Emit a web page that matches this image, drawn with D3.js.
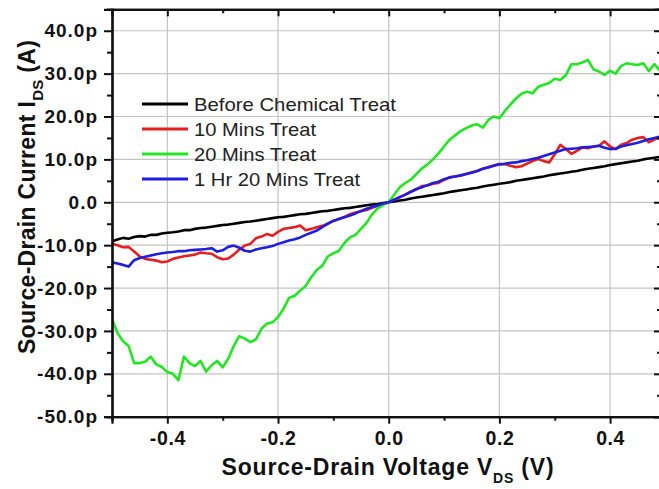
<!DOCTYPE html>
<html><head><meta charset="utf-8">
<script src="https://cdn.jsdelivr.net/npm/d3@7"></script>
<style>
html,body{margin:0;padding:0;background:#fff;}
svg{display:block;}
text{font-family:"Liberation Sans",Arial,Helvetica,sans-serif;}
</style></head>
<body><svg id="c" width="659" height="489"></svg>
<script>
const voltage = [-0.50,-0.49,-0.48,-0.47,-0.46,-0.45,-0.44,-0.43,-0.42,-0.41,-0.40,-0.39,-0.38,-0.37,-0.36,-0.35,-0.34,-0.33,-0.32,-0.31,-0.30,-0.29,-0.28,-0.27,-0.26,-0.25,-0.24,-0.23,-0.22,-0.21,-0.20,-0.19,-0.18,-0.17,-0.16,-0.15,-0.14,-0.13,-0.12,-0.11,-0.10,-0.09,-0.08,-0.07,-0.06,-0.05,-0.04,-0.03,-0.02,-0.01,0.00,0.01,0.02,0.03,0.04,0.05,0.06,0.07,0.08,0.09,0.10,0.11,0.12,0.13,0.14,0.15,0.16,0.17,0.18,0.19,0.20,0.21,0.22,0.23,0.24,0.25,0.26,0.27,0.28,0.29,0.30,0.31,0.32,0.33,0.34,0.35,0.36,0.37,0.38,0.39,0.40,0.41,0.42,0.43,0.44,0.45,0.46,0.47,0.48,0.49];
// currents in pA
const beforeTreat = [-9.1,-8.7,-8.3,-8.5,-8.1,-7.9,-8.0,-7.6,-7.6,-7.3,-7.1,-7.0,-6.8,-6.5,-6.5,-6.2,-6.0,-5.9,-5.7,-5.5,-5.3,-5.2,-5.0,-4.8,-4.6,-4.5,-4.3,-4.1,-3.9,-3.7,-3.5,-3.4,-3.2,-3.0,-2.8,-2.7,-2.5,-2.3,-2.1,-2.0,-1.8,-1.6,-1.4,-1.3,-1.1,-0.9,-0.7,-0.5,-0.4,-0.2,0.0,0.2,0.4,0.6,0.9,1.1,1.3,1.5,1.7,1.9,2.1,2.4,2.6,2.8,3.0,3.2,3.4,3.7,3.9,4.1,4.3,4.5,4.7,5.0,5.2,5.4,5.6,5.8,6.0,6.3,6.5,6.7,6.9,7.1,7.3,7.6,7.8,8.0,8.2,8.4,8.7,8.9,9.1,9.3,9.5,9.7,10.0,10.2,10.4,10.6];
const treat10 = [-9.7,-10.0,-10.5,-10.4,-11.5,-12.6,-13.2,-13.4,-13.6,-14.0,-13.8,-13.2,-12.9,-12.6,-12.4,-12.2,-11.7,-11.9,-12.0,-12.8,-13.3,-13.1,-12.2,-11.0,-10.1,-9.7,-8.4,-8.0,-7.4,-7.8,-6.9,-6.2,-6.0,-5.8,-5.4,-6.5,-6.2,-5.8,-5.5,-5.0,-4.4,-3.9,-3.4,-2.8,-2.4,-2.1,-1.8,-1.3,-0.8,-0.4,0.0,0.6,1.2,1.8,2.4,3.0,3.8,3.9,4.3,4.5,5.2,5.8,6.0,6.2,6.6,7.0,7.3,7.8,8.2,8.6,8.8,8.9,8.5,8.2,8.4,9.0,9.6,10.1,9.6,9.3,11.2,13.4,12.4,11.3,12.0,12.8,12.6,13.0,13.2,14.2,13.0,12.4,13.4,13.8,14.6,15.0,15.2,14.0,14.6,15.2];
const treat20 = [-27.2,-30.5,-32.4,-33.5,-37.5,-37.5,-37.2,-36.0,-37.8,-38.4,-39.6,-40.0,-41.5,-36.0,-37.5,-38.2,-37.0,-39.5,-38.0,-37.0,-38.5,-36.5,-33.5,-31.2,-31.8,-32.6,-32.0,-29.5,-28.3,-28.0,-26.8,-24.8,-22.3,-21.8,-20.6,-19.5,-17.5,-15.8,-14.8,-12.6,-11.9,-11.3,-9.5,-8.2,-7.6,-6.2,-4.8,-2.8,-1.4,-0.6,0.0,1.8,3.5,4.5,5.3,6.6,7.9,8.8,10.0,11.4,13.0,14.6,15.6,16.6,17.3,17.9,18.2,17.4,19.2,20.0,19.6,21.3,22.8,24.2,25.3,25.8,25.4,26.9,27.4,27.8,28.8,28.5,29.6,32.2,32.2,32.6,33.2,31.0,30.5,29.7,30.7,30.0,31.8,32.4,32.2,32.0,32.4,30.6,32.2,30.7];
const treat80 = [-14.0,-14.3,-14.6,-15.0,-13.5,-13.0,-12.7,-12.4,-12.1,-11.9,-11.7,-11.6,-11.4,-11.4,-11.2,-11.1,-11.0,-10.9,-10.7,-11.5,-11.2,-10.4,-10.1,-10.6,-11.3,-11.5,-11.0,-10.7,-10.5,-10.2,-9.7,-9.3,-8.9,-8.6,-8.2,-7.6,-7.1,-6.6,-5.8,-5.0,-4.3,-3.9,-3.5,-3.1,-2.6,-2.0,-1.5,-1.1,-0.7,-0.3,0.0,0.6,1.2,1.8,2.5,3.1,3.5,4.0,4.5,4.8,5.4,5.8,6.0,6.3,6.6,6.9,7.3,7.8,8.1,8.5,8.9,9.0,9.2,9.3,9.6,9.8,10.1,10.4,10.8,11.2,11.6,12.0,12.4,12.5,12.6,12.8,12.9,13.0,13.2,12.7,12.4,12.5,13.0,13.3,13.6,13.9,14.3,14.7,15.0,15.3];

const seriesNames = ["Before Chemical Treat","10 Mins Treat","20 Mins Treat","1 Hr 20 Mins Treat"];
const seriesValues = [beforeTreat, treat10, treat20, treat80];
const seriesColors = ["#000000","#e61e1e","#22e622","#1e1ee0"];

const xTicks = [-0.4,-0.2,0.0,0.2,0.4];
const xTickLabels = ["-0.4","-0.2","0.0","0.2","0.4"];
const xMinor = [-0.5,-0.3,-0.1,0.1,0.3];
const yTicks = [40,30,20,10,0,-10,-20,-30,-40,-50];
const yTickLabels = ["40.0p","30.0p","20.0p","10.0p","0.0","-10.0p","-20.0p","-30.0p","-40.0p","-50.0p"];
const yMinor = [45,35,25,15,5,-5,-15,-25,-35,-45];

const L = 112, R = 661, T = 9.3, B = 416.7;
const x = d3.scaleLinear().domain([-0.5, 0.492]).range([L, R]);
const y = d3.scaleLinear().domain([-50, 45]).range([B, T]);

const svg = d3.select("#c");

// grid
const grid = svg.append("g").attr("stroke","#c4c4c4").attr("stroke-width",1.2);
grid.selectAll("line.vx").data(xTicks).join("line")
  .attr("x1",d=>x(d)).attr("x2",d=>x(d)).attr("y1",T).attr("y2",B);
grid.selectAll("line.hy").data(yTicks.filter(d=>d>-50)).join("line")
  .attr("x1",L).attr("x2",R).attr("y1",d=>y(d)).attr("y2",d=>y(d));

// clip
svg.append("clipPath").attr("id","clip").append("rect")
  .attr("x",L).attr("y",T).attr("width",R-L).attr("height",B-T);

const line = d3.line().x((d,i)=>x(voltage[i])).y(d=>y(d));
const lines = svg.append("g").attr("clip-path","url(#clip)");
seriesValues.forEach((vals,k)=>{
  lines.append("path").datum(vals).attr("d",line)
    .attr("fill","none").attr("stroke",seriesColors[k]).attr("stroke-width",2.6)
    .attr("stroke-linejoin","round");
});

// axes
const fmtX = d => xTickLabels[xTicks.indexOf(d)];
const fmtY = d => yTickLabels[yTicks.indexOf(d)];
const xAxis = svg.append("g").attr("transform",`translate(0,${B})`)
  .call(d3.axisBottom(x).tickValues(xTicks).tickFormat(fmtX).tickSize(7).tickPadding(7));
const xAxisMinor = svg.append("g").attr("transform",`translate(0,${B})`)
  .call(d3.axisBottom(x).tickValues(xMinor).tickFormat("").tickSize(4));
const yAxis = svg.append("g").attr("transform",`translate(${L},0)`)
  .call(d3.axisLeft(y).tickValues(yTicks).tickFormat(fmtY).tickSize(8).tickPadding(6));
const yAxisMinor = svg.append("g").attr("transform",`translate(${L},0)`)
  .call(d3.axisLeft(y).tickValues(yMinor).tickFormat("").tickSize(5));
const topAxis = svg.append("g").attr("transform",`translate(0,${T})`)
  .call(d3.axisBottom(x).tickValues(xTicks).tickFormat("").tickSize(7));
const topMinor = svg.append("g").attr("transform",`translate(0,${T})`)
  .call(d3.axisBottom(x).tickValues(xMinor).tickFormat("").tickSize(4));
const rightAxis = svg.append("g").attr("transform",`translate(${R},0)`)
  .call(d3.axisLeft(y).tickValues(yTicks).tickFormat("").tickSize(7));
const rightMinor = svg.append("g").attr("transform",`translate(${R},0)`)
  .call(d3.axisLeft(y).tickValues(yMinor).tickFormat("").tickSize(4));

[xAxis,xAxisMinor,yAxis,yAxisMinor,topAxis,topMinor,rightAxis,rightMinor].forEach(g=>{
  g.select(".domain").attr("stroke","#111").attr("stroke-width",2.2);
  g.selectAll(".tick line").attr("stroke","#111").attr("stroke-width",2);
});
xAxis.selectAll(".tick text").attr("font-size",19.5).attr("font-weight","bold").attr("fill","#111")
  .attr("font-family","Liberation Sans, Arial, sans-serif").attr("letter-spacing",0.6);
yAxis.selectAll(".tick text").attr("font-size",19).attr("font-weight","bold").attr("fill","#111")
  .attr("font-family","Liberation Sans, Arial, sans-serif").attr("letter-spacing",1);

// axis titles
const xt = svg.append("text").attr("x",388).attr("y",475).attr("text-anchor","middle")
  .attr("font-size",23).attr("font-weight","bold").attr("fill","#111").attr("letter-spacing",0.8);
xt.append("tspan").text("Source-Drain Voltage V");
xt.append("tspan").attr("font-size",14).attr("dy",8).text("DS");
xt.append("tspan").attr("dy",-8).text(" (V)");

const yt = svg.append("text").attr("transform","translate(35,197) rotate(-90)").attr("text-anchor","middle")
  .attr("font-size",23).attr("font-weight","bold").attr("fill","#111").attr("letter-spacing",0.3);
yt.append("tspan").text("Source-Drain Current I");
yt.append("tspan").attr("font-size",15).attr("dy",8).text("DS");
yt.append("tspan").attr("dy",-8).text(" (A)");

// legend
const legendWidths = [202,122,122,166];
const lg = svg.append("g");
seriesNames.forEach((n,k)=>{
  const yy = 104 + k*25;
  lg.append("line").attr("x1",142).attr("x2",188).attr("y1",yy).attr("y2",yy)
    .attr("stroke",seriesColors[k]).attr("stroke-width",3);
  lg.append("text").attr("x",194).attr("y",yy+6.5).attr("font-size",18.5).attr("fill","#222")
    .attr("textLength",legendWidths[k]).attr("lengthAdjust","spacingAndGlyphs").text(n);
});
</script></body></html>
